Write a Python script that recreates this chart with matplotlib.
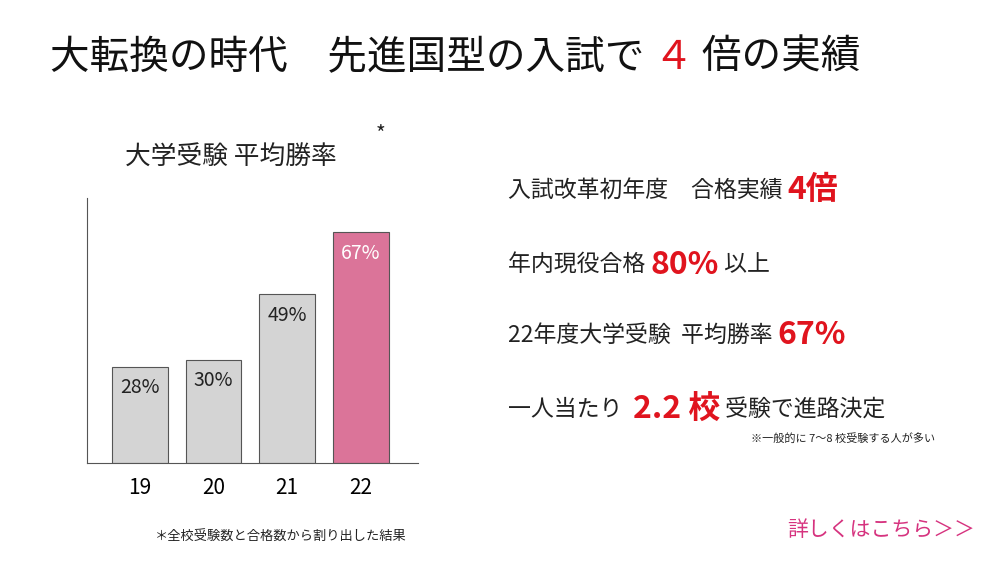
import matplotlib
matplotlib.use("Agg")
import matplotlib.pyplot as plt

years = ["19", "20", "21", "22"]
rates = [28, 30, 49, 67]
labels = ["28%", "30%", "49%", "67%"]
colors = ["#d4d4d4", "#d4d4d4", "#d4d4d4", "#db7499"]

JP = "Noto Sans CJK JP"
W, H = 1000, 563
fig = plt.figure(figsize=(W/100, H/100), dpi=100)
fig.patch.set_facecolor("white")

def fx(x): return x / W
def fy(y): return 1 - y / H

ax = fig.add_axes([fx(87), fy(463), fx(418-87), (463-198)/H])
x = range(len(years))
ax.bar(x, rates, width=0.76, color=colors, edgecolor="#555555", linewidth=0.8)
ax.set_xlim(-0.72, 3.78)
ax.set_ylim(0, 77)
for i, (r, l) in enumerate(zip(rates, labels)):
    ax.text(i, r - 3, l, ha="center", va="top", fontsize=14, family=JP,
            color="white" if i == 3 else "#222222")
ax.set_xticks(list(x))
ax.set_xticklabels(years, fontsize=15, family=JP)
ax.tick_params(length=0, pad=10)
ax.set_yticks([])
for s in ["top", "right"]:
    ax.spines[s].set_visible(False)
ax.spines["left"].set_color("#555555")
ax.spines["bottom"].set_color("#555555")

fig.canvas.draw()
r = fig.canvas.get_renderer()

def chain(xp, y, parts):
    for s, c, fs, wt in parts:
        t = fig.text(fx(xp), fy(y), s, ha="left", va="center", fontsize=fs,
                     family=JP, color=c, fontweight=wt)
        xp += t.get_window_extent(r).width

chain(50, 58, [("大転換の時代　先進国型の入試で ", "#111111", 28.5, "normal"),
               ("４", "#e0141e", 28.5, "normal"),
               (" 倍の実績", "#111111", 28.5, "normal")])

fig.text(fx(125), fy(158), "大学受験 平均勝率", ha="left", va="center", fontsize=18.5, family=JP, color="#222222")
fig.text(fx(376), fy(135), "*", ha="left", va="center", fontsize=15, family=JP, color="#222222")
fig.text(fx(155), fy(537), "＊全校受験数と合格数から割り出した結果", ha="left", va="center",
         fontsize=9.5, family=JP, color="#222222")

rows = [
    (190, [("入試改革初年度　合格実績 ", "#222", 16.5, "normal"), ("4倍", "#e0141e", 23, "bold")]),
    (265, [("年内現役合格 ", "#222", 16.5, "normal"), ("80%", "#e0141e", 23, "bold"), (" 以上", "#222", 16.5, "normal")]),
    (335, [("22年度大学受験  平均勝率 ", "#222", 16.5, "normal"), ("67%", "#e0141e", 23, "bold")]),
    (410, [("一人当たり  ", "#222", 16.5, "normal"), ("2.2 校", "#e0141e", 23, "bold"), (" 受験で進路決定", "#222", 16.5, "normal")]),
]
for y, parts in rows:
    chain(508, y, parts)
fig.text(fx(935), fy(438), "※一般的に 7～8 校受験する人が多い", ha="right", va="center",
         fontsize=8, family=JP, color="#222222")
fig.text(fx(975), fy(530), "詳しくはこちら＞＞", ha="right", va="center",
         fontsize=15, family=JP, color="#d6337f")

fig.savefig("out.png", dpi=100, facecolor="white")
